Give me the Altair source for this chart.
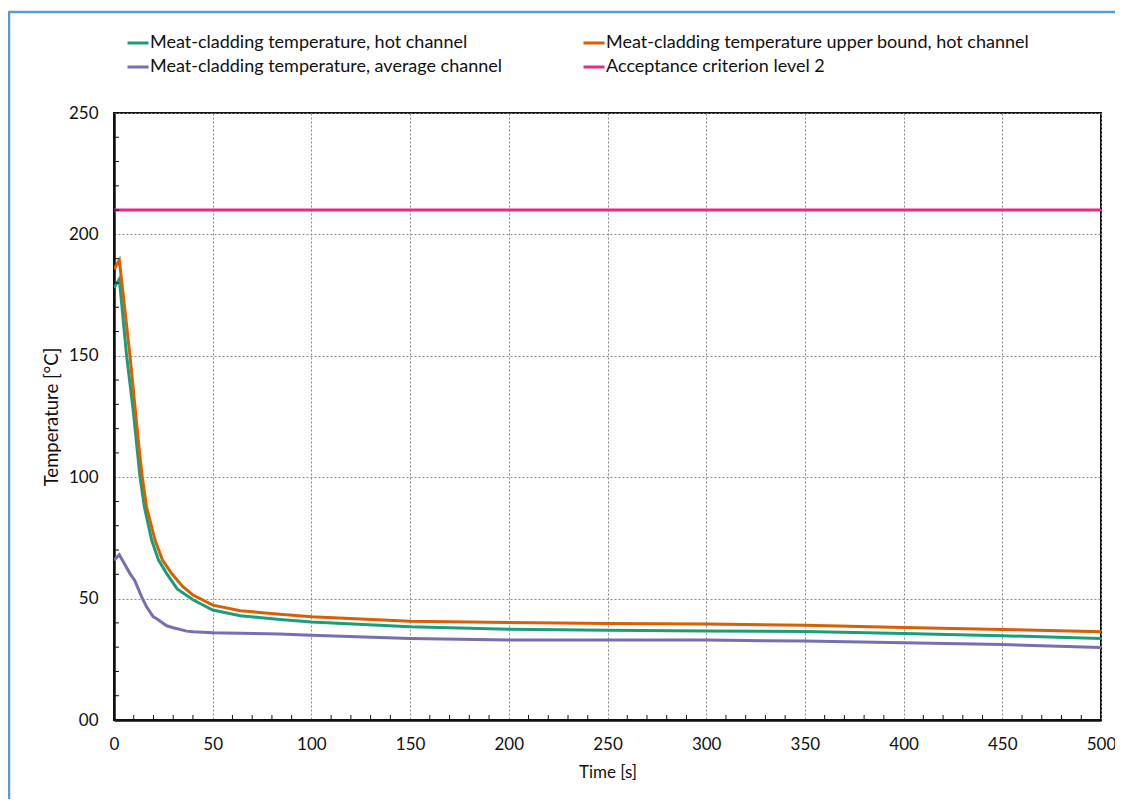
import altair as alt
import pandas as pd

SERIES = [
    "Meat-cladding temperature, hot channel",
    "Meat-cladding temperature upper bound, hot channel",
    "Meat-cladding temperature, average channel",
    "Acceptance criterion level 2",
]
COLORS = ["#1b9e77", "#d95f02", "#7570b3", "#e7298a"]

hot_t = [0, 2.7, 6.4, 9.8, 11.8, 13.2, 15.4, 19.1, 22.5, 26.7, 32, 40, 50, 64, 84, 100, 150, 200, 250, 300, 350, 400, 450, 500]
hot_v = [178, 181.6, 150, 127, 111, 100, 87.7, 74, 66, 60.3, 54, 49.5, 45.3, 42.9, 41.4, 40.4, 38.4, 37.4, 37.0, 36.7, 36.5, 35.6, 34.7, 33.6]

upper_t = [0, 2.7, 8.1, 12.8, 14.3, 16.5, 20.8, 24.5, 29.2, 35, 40, 50, 64, 84, 100, 150, 200, 250, 300, 350, 400, 450, 500]
upper_v = [185.7, 189.4, 150, 111, 100, 87.7, 74, 66, 60.3, 54.8, 51.5, 47.3, 45.0, 43.6, 42.5, 40.7, 40.2, 39.7, 39.5, 39.0, 38.1, 37.3, 36.3]

avg_t = [0, 2.7, 8.1, 10.5, 14, 16.5, 19.9, 21.5, 26.7, 30, 36.8, 40, 50, 64, 84, 100, 150, 200, 250, 300, 350, 400, 450, 500]
avg_v = [65.8, 68.1, 60.3, 57.5, 50.7, 46.6, 42.5, 41.8, 38.8, 38.0, 36.6, 36.3, 35.9, 35.7, 35.4, 34.9, 33.6, 32.9, 32.9, 32.9, 32.5, 31.8, 31.1, 29.9]

accept_t = [0, 500]
accept_v = [210, 210]

x_ticks = [0, 50, 100, 150, 200, 250, 300, 350, 400, 450, 500]
y_ticks = [0, 50, 100, 150, 200, 250]
x_minor = [t for t in range(10, 500, 10) if t % 50 != 0]
y_minor = [v for v in range(10, 250, 10) if v % 50 != 0]

rows = []
for name, ts, vs in [
    (SERIES[0], hot_t, hot_v),
    (SERIES[1], upper_t, upper_v),
    (SERIES[2], avg_t, avg_v),
    (SERIES[3], accept_t, accept_v),
]:
    for i, (t, v) in enumerate(zip(ts, vs)):
        rows.append({"series": name, "t": t, "v": v, "order": i})
df = pd.DataFrame(rows)

FONT = "Lato"
W, H = 987, 607

x_enc = alt.X(
    "t:Q",
    scale=alt.Scale(domain=[0, 500], nice=False, zero=False),
    axis=alt.Axis(
        title="Time [s]", values=x_ticks, grid=True, ticks=False, tickSize=0,
        labelFlush=False, labelOverlap=False,
        labelPadding=16, titlePadding=12, domainColor="#111111", domainWidth=2.5,
        gridColor="#8a8a8a", gridDash=[2, 2], gridWidth=1,
        labelFont=FONT, labelFontSize=17, titleFont=FONT, titleFontSize=17,
        titleFontWeight="normal", labelColor="#111111", titleColor="#111111",
    ),
)
y_enc = alt.Y(
    "v:Q",
    scale=alt.Scale(domain=[0, 250], nice=False, zero=False),
    axis=alt.Axis(
        title="Temperature [°C]", values=y_ticks, grid=True, ticks=False, tickSize=0,
        labelFlush=False, labelOverlap=False,
        labelPadding=16, titlePadding=7, domainColor="#111111", domainWidth=2.5,
        gridColor="#8a8a8a", gridDash=[2, 2], gridWidth=1,
        labelExpr="datum.value == 0 ? '00' : datum.label",
        labelFont=FONT, labelFontSize=17, titleFont=FONT, titleFontSize=18.5,
        titleFontWeight="normal", labelColor="#111111", titleColor="#111111",
    ),
)

lines = alt.Chart(df).mark_line(strokeWidth=3, clip=True).encode(
    x=x_enc,
    y=y_enc,
    order="order:Q",
    color=alt.Color(
        "series:N",
        scale=alt.Scale(domain=SERIES, range=COLORS),
        legend=alt.Legend(
            title=None, orient="none", legendX=12, legendY=-82, columns=2,
            direction="horizontal",
            symbolType="stroke", symbolSize=441, symbolStrokeWidth=3,
            labelFont=FONT, labelFontSize=18, labelColor="#111111",
            labelLimit=600, labelOffset=0, columnPadding=74, rowPadding=3,
        ),
    ),
)

xminor_df = pd.DataFrame({"t": x_minor})
yminor_df = pd.DataFrame({"v": y_minor})

xminor = alt.Chart(xminor_df).mark_rule(color="#111111", strokeWidth=1).encode(
    x=alt.X("t:Q"), y=alt.value(H), y2=alt.value(H - 5)
)
yminor = alt.Chart(yminor_df).mark_rule(color="#111111", strokeWidth=1).encode(
    y=alt.Y("v:Q"), x=alt.value(0), x2=alt.value(5)
)

border_top = alt.Chart(pd.DataFrame({"a": [0]})).mark_rule(color="#5b9bd5", strokeWidth=2.5).encode(
    x=alt.value(-105), x2=alt.value(1010), y=alt.value(-101)
)
border_left = alt.Chart(pd.DataFrame({"a": [0]})).mark_rule(color="#5b9bd5", strokeWidth=2.5).encode(
    x=alt.value(-105), y=alt.value(-102), y2=alt.value(700)
)

chart = (
    alt.layer(lines, xminor, yminor, border_top, border_left)
    .properties(
        width=W, height=H,
        autosize=alt.AutoSizeParams(type="none"),
        padding={"left": 106, "top": 105, "right": 14, "bottom": 79},
        background="white",
    )
    .configure_view(stroke="#111111", strokeWidth=2)
)

chart.save("out.html", embed_options={"renderer": "svg", "actions": False})
